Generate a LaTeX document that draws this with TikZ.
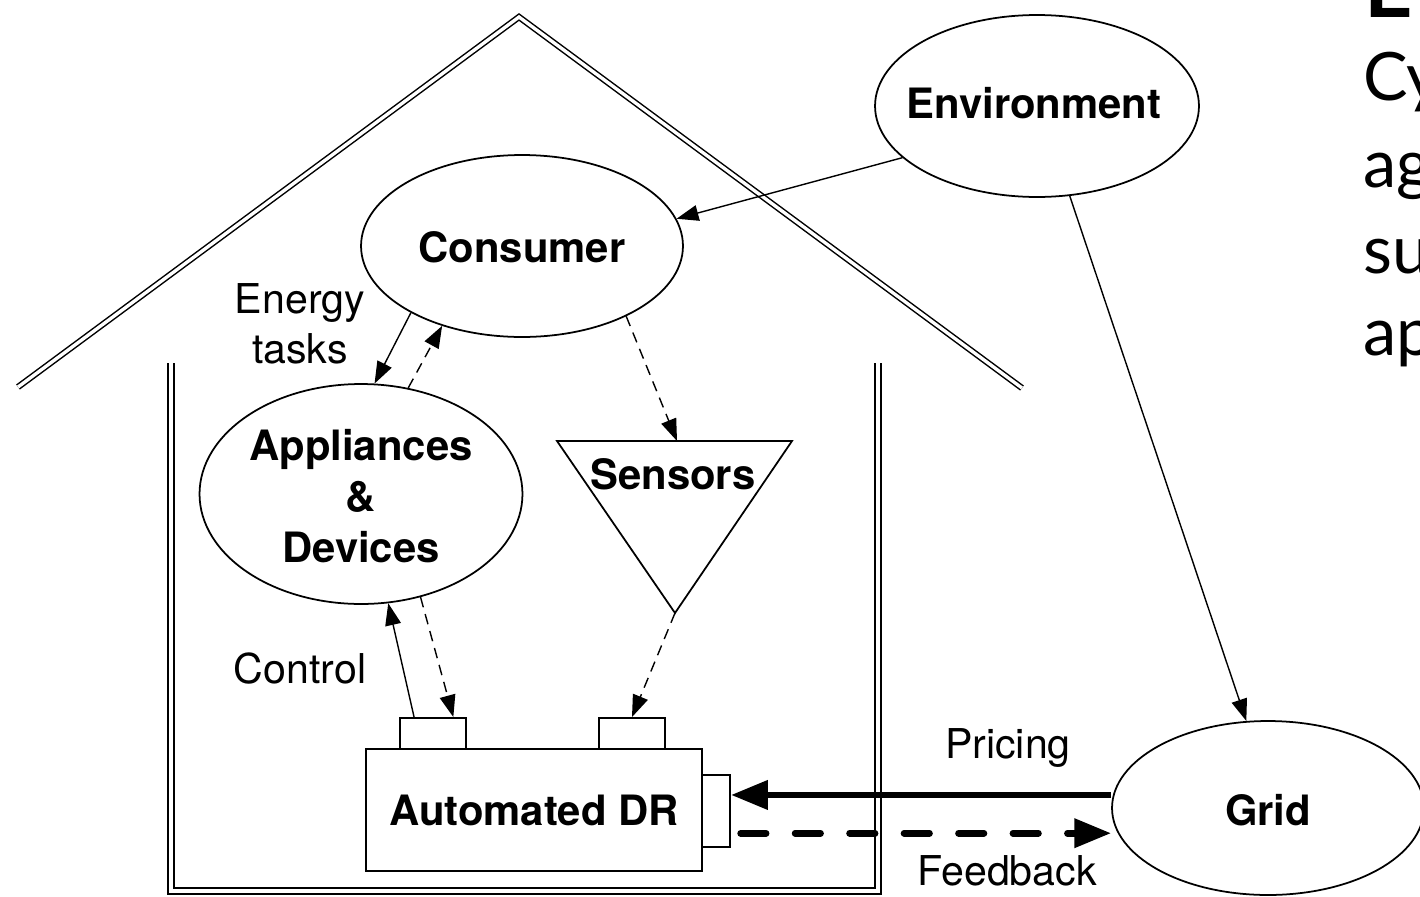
\documentclass[tikz,border=0pt]{standalone}
\usepackage{fontspec}
\setmainfont{TeX Gyre Heros}
\newfontfamily\slidefont{Lato}
\usetikzlibrary{arrows.meta,shapes.geometric}

\begin{document}
\begin{tikzpicture}[x=0.02cm,y=-0.02cm,
    font=\fontsize{23.4}{28.5}\selectfont,
    wallline/.style={double,double distance=2.4pt,line width=1pt},
    roofline/.style={double,double distance=1.9pt,line width=0.85pt},
    blob/.style={draw,ellipse,line width=1pt,inner sep=0pt},
    unitbox/.style={draw,rectangle,line width=1.1pt,inner sep=0pt},
    boldtext/.style={font=\fontsize{23.8}{29.2}\selectfont\bfseries,align=center},
    flowarrow/.style={line width=0.8pt,-{Triangle[length=12.5pt,width=9pt]}},
    infoarrow/.style={flowarrow,dash pattern=on 6pt off 4pt},
    pricearrow/.style={line width=3.8pt,-{Triangle[length=21pt,width=16pt]}},
    feedbackarrow/.style={pricearrow,line cap=round,dash pattern=on 14.5pt off 16.5pt},
    slidetext/.style={font=\slidefont\fontsize{38}{46}\selectfont,inner sep=0pt,anchor=base west}]
  \useasboundingbox (0,0) rectangle (1420,896);
  \clip (0,0) rectangle (1420,896);

  % House
  \draw[roofline] (18,387) -- (519,17) -- (1022,388);
  \draw[wallline] (171,363) -- (171,891) -- (878,891) -- (878,363);

  % Ellipses
  \node[blob,minimum width=6.48cm,minimum height=3.64cm] (env) at (1037,106) {};
  \node[boldtext] (envtext) at (1034,103) {Environment};
  \node[blob,minimum width=6.44cm,minimum height=3.64cm] (consumer) at (522,246) {};
  \node[boldtext] (constext) at (522,247) {Consumer};
  \node[blob,minimum width=6.46cm,minimum height=4.4cm] (appl) at (361,494) {};
  \node[boldtext] (appltext) at (361,496) {Appliances\\\&\\Devices};
  \node[blob,minimum width=6.24cm,minimum height=3.48cm] (grid) at (1268,808) {};
  \node[boldtext] (gridtext) at (1268,810) {Grid};

  % Sensors
  \coordinate (sens-nw) at (557,441);
  \coordinate (sens-ne) at (792,441);
  \coordinate (sens-s) at (675,613);
  \coordinate (sens-in) at (677,441);
  \draw[line width=1pt] (sens-nw) -- (sens-ne) -- (sens-s) -- cycle;
  \node[boldtext] (sensors) at (673,474) {Sensors};

  % Automated DR unit with its ports
  \node[unitbox,minimum width=6.72cm,minimum height=2.44cm,boldtext] (dr) at (534,810) {Automated DR};
  \node[unitbox,minimum width=1.32cm,minimum height=0.62cm] (tab1) at (433,733.5) {};
  \node[unitbox,minimum width=1.32cm,minimum height=0.62cm] (tab2) at (632,733.5) {};
  \node[unitbox,minimum width=0.56cm,minimum height=1.44cm] (rtab) at (716,811) {};

  % Arrows
  \draw[flowarrow] (env.201) -- (consumer.10);
  \draw[flowarrow] (env.-70) -- (grid.104);
  \draw[flowarrow] (consumer.211) -- (appl.83);
  \draw[infoarrow] (appl.66) -- (consumer.225);
  \draw[infoarrow] (consumer.-34) -- (sens-in);
  \draw[infoarrow] (appl.-60) -- (tab1.39);
  \draw[flowarrow] (tab1.139) -- (appl.-76);
  \draw[infoarrow] (sens-s) -- (tab2.north);
  \draw[pricearrow] (grid.west |- rtab.47) -- (rtab.47);
  \draw[feedbackarrow,shorten <=5.5pt] (rtab.-56) -- (grid.west |- rtab.-56);

  % Labels
  \node[align=center] (tasks) at (300,324) {Energy\\tasks};
  \node[anchor=base] (control) at (300,683) {Control};
  \node[anchor=base] (pricing) at (1008,758) {Pricing};
  \node[anchor=base] (feedback) at (1007,885) {Feedback};

  % Slide text at the right
  \node[slidetext,font=\slidefont\fontsize{48}{56}\selectfont\bfseries] (head) at (1364,17) {E};
  \node[slidetext] (line1) at (1363,100) {Cy};
  \node[slidetext] (line2) at (1363,187) {ag};
  \node[slidetext] (line3) at (1363,273) {su};
  \node[slidetext] (line4) at (1363,355) {ap};
\end{tikzpicture}
\end{document}
